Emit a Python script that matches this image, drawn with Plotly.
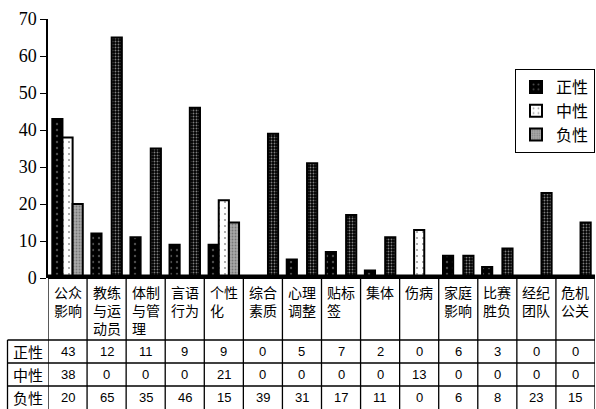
import plotly.graph_objects as go

categories = ["公众影响", "教练与运动员", "体制与管理", "言语行为", "个性化", "综合素质", "心理调整",
              "贴标签", "集体", "伤病", "家庭影响", "比赛胜负", "经纪团队", "危机公关"]
series_names = ["正性", "中性", "负性"]
positive = [43, 12, 11, 9, 9, 0, 5, 7, 2, 0, 6, 3, 0, 0]
neutral = [38, 0, 0, 0, 21, 0, 0, 0, 0, 13, 0, 0, 0, 0]
negative = [20, 65, 35, 46, 15, 39, 31, 17, 11, 0, 6, 8, 23, 15]
y_ticks = [0, 10, 20, 30, 40, 50, 60, 70]

W, H = 596, 409
ML, MR, MT, MB = 48, 1, 19, 131
PH = H - MT - MB  # plot height in px
PW = W - ML - MR

def py(pix):
    """pixel y -> paper y"""
    return (H - MB - pix) / PH

def px(pix):
    return (pix - ML) / PW

CJK = "Noto Sans CJK SC"
n = len(categories)
xs = list(range(n))

fig = go.Figure()
fig.add_trace(go.Bar(
    x=xs, y=positive, name=series_names[0],
    marker=dict(color="black", line=dict(color="black", width=2),
                pattern=dict(shape=".", bgcolor="black", fgcolor="#9a9a9a", size=6, solidity=0.12)),
))
fig.add_trace(go.Bar(
    x=xs, y=neutral, name=series_names[1],
    marker=dict(color="white", line=dict(color="black", width=2),
                pattern=dict(shape=".", bgcolor="white", fgcolor="#333", size=6, solidity=0.1)),
))
neg_bg = ["#a8a8a8" if neutral[i] > 0 else "black" for i in range(n)]
neg_fg = ["#5a5a5a" if neutral[i] > 0 else "#c8c8c8" for i in range(n)]
fig.add_trace(go.Bar(
    x=xs, y=negative, name=series_names[2],
    marker=dict(color=neg_bg, line=dict(color="black", width=2),
                pattern=dict(shape=".", bgcolor=neg_bg, fgcolor=neg_fg, size=3, solidity=0.3)),
))

shapes = []
# column boundaries (category labels + table)
for i in range(n + 1):
    shapes.append(dict(type="line", xref="x", yref="paper", x0=i - 0.5, x1=i - 0.5,
                       y0=0, y1=py(409), line=dict(color="black", width=1.3)))
# row label column left border
shapes.append(dict(type="line", xref="paper", yref="paper", x0=px(7.5), x1=px(7.5),
                   y0=py(340), y1=py(409), line=dict(color="black", width=1.3)))
# horizontal table lines
for yy in [340, 363, 386]:
    shapes.append(dict(type="line", xref="paper", yref="paper", x0=px(7.5), x1=1,
                       y0=py(yy), y1=py(yy), line=dict(color="black", width=1.3)))
# floor
shapes.append(dict(type="rect", xref="paper", yref="paper", x0=0, x1=1,
                   y0=py(279), y1=py(274.5), line=dict(width=0), fillcolor="black"))

annotations = []
for i, c in enumerate(categories):
    lines = [c[k:k + 2] for k in range(0, len(c), 2)]
    annotations.append(dict(x=i, xref="x", y=py(281), yref="paper", yanchor="top",
                            xanchor="center", align="left", showarrow=False, borderpad=0,
                            text="<br>".join(lines),
                            font=dict(family=CJK, size=14, color="black")))
row_centers = [351.5, 374.5, 397.5]
for vals, name, yc in zip([positive, neutral, negative], series_names, row_centers):
    annotations.append(dict(x=px(27.5), xref="paper", y=py(yc), yref="paper",
                            xanchor="center", yanchor="middle", showarrow=False, text=name,
                            borderpad=0, font=dict(family=CJK, size=15, color="black")))
    for i, v in enumerate(vals):
        annotations.append(dict(x=i, xref="x", y=py(yc), yref="paper", borderpad=0,
                                xanchor="center", yanchor="middle", showarrow=False, text=str(v),
                                font=dict(family="Liberation Sans", size=13, color="black")))

fig.update_layout(
    width=W, height=H,
    margin=dict(l=ML, r=MR, t=MT, b=MB),
    paper_bgcolor="white", plot_bgcolor="white",
    barmode="group", bargap=0.22, bargroupgap=0,
    showlegend=True,
    legend=dict(x=1, y=py(69), xanchor="right", yanchor="top",
                bordercolor="black", borderwidth=1, bgcolor="white",
                font=dict(family=CJK, size=16, color="black"),
                itemwidth=30, traceorder="normal", tracegroupgap=0),
    xaxis=dict(range=[-0.5, n - 0.5], showticklabels=False, showgrid=False,
               zeroline=False, showline=False, ticks="", fixedrange=True),
    yaxis=dict(range=[0, 70], tickvals=y_ticks, showgrid=False, zeroline=False,
               showline=True, linecolor="black", linewidth=1.5,
               ticks="outside", ticklen=6, tickcolor="black", tickwidth=1.3,
               tickfont=dict(family="Liberation Serif", size=18, color="black")),
    shapes=shapes, annotations=annotations,
)

fig.write_html("out.html")
